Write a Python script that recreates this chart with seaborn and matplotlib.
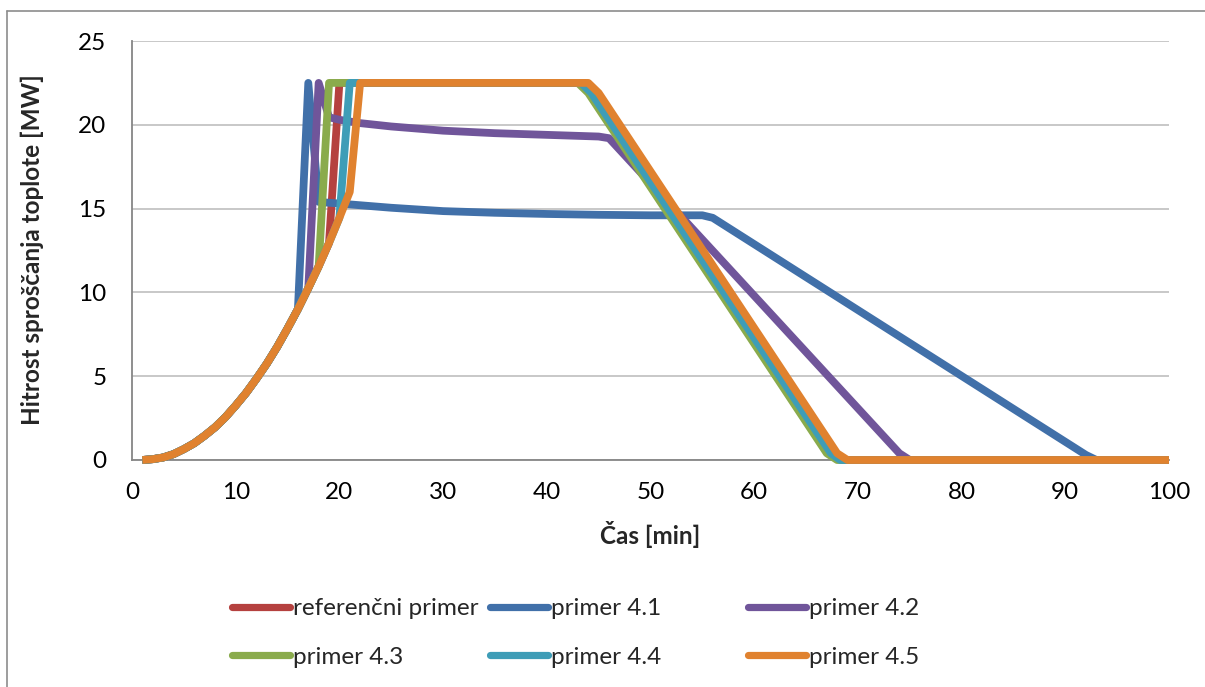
import matplotlib
matplotlib.use("Agg")
import matplotlib.pyplot as plt
from matplotlib.lines import Line2D
import pandas as pd
import seaborn as sns

# Growth phase shared by all cases (MW at whole minutes, t = 1 ... 21 min)
growth_t = list(range(1, 22))
growth_q = [0.0, 0.05, 0.15, 0.35, 0.65, 1.0, 1.45, 1.95, 2.55, 3.25, 4.0,
            4.85, 5.75, 6.75, 7.85, 9.0, 10.25, 11.55, 12.95, 14.45, 16.0]

series_names = ["referenčni primer", "primer 4.1", "primer 4.2",
                "primer 4.3", "primer 4.4", "primer 4.5"]
series_colors = ["#B5413F", "#4170A9", "#70559A", "#8AAB4C", "#3E9DB7", "#E0822F"]

# referenčni primer
ref_t = growth_t[:19] + [20, 43.6, 44.6, 67.7, 68.6, 100]
ref_q = growth_q[:19] + [22.5, 22.5, 21.9, 0.4, 0.0, 0.0]

# primer 4.1
p41_t = growth_t[:16] + [17, 18, 20, 25, 30, 35, 40, 45, 50, 55, 56, 92, 93, 100]
p41_q = growth_q[:16] + [22.5, 15.4, 15.3, 15.05, 14.85, 14.75, 14.68, 14.63,
                         14.6, 14.6, 14.45, 0.3, 0.0, 0.0]

# primer 4.2
p42_t = growth_t[:17] + [18, 19, 20, 22, 25, 30, 35, 40, 45, 46, 74, 75, 100]
p42_q = growth_q[:17] + [22.5, 20.45, 20.3, 20.1, 19.9, 19.65, 19.5, 19.4,
                         19.3, 19.2, 0.4, 0.0, 0.0]

# primer 4.3
p43_t = growth_t[:18] + [19, 43, 44, 67, 68, 100]
p43_q = growth_q[:18] + [22.5, 22.5, 21.9, 0.4, 0.0, 0.0]

# primer 4.4
p44_t = growth_t[:20] + [21, 43.3, 44.3, 67.4, 68.3, 100]
p44_q = growth_q[:20] + [22.5, 22.5, 21.9, 0.4, 0.0, 0.0]

# primer 4.5
p45_t = growth_t[:21] + [22, 44, 45, 68, 69, 100]
p45_q = growth_q[:21] + [22.5, 22.5, 21.9, 0.4, 0.0, 0.0]

x_ticks = [0, 10, 20, 30, 40, 50, 60, 70, 80, 90, 100]
y_ticks = [0, 5, 10, 15, 20, 25]

all_t = [ref_t, p41_t, p42_t, p43_t, p44_t, p45_t]
all_q = [ref_q, p41_q, p42_q, p43_q, p44_q, p45_q]
frames = [pd.DataFrame({"t": t, "q": q, "serija": name})
          for name, t, q in zip(series_names, all_t, all_q)]
df = pd.concat(frames, ignore_index=True)

sns.set_theme(style="white")
plt.rcParams["font.family"] = ["Lato", "DejaVu Sans"]

W, H = 1205, 687
FS = 17.5
fig = plt.figure(figsize=(W / 100, H / 100), dpi=100)
ax = fig.add_axes([132 / W, 1 - 460 / H, (1169 - 132) / W, (460 - 41) / H])

grid_col = "#BFBFBF"
axis_col = "#868686"

sns.lineplot(data=df, x="t", y="q", hue="serija", hue_order=series_names,
             palette=dict(zip(series_names, series_colors)), estimator=None,
             sort=False, linewidth=5.6, legend=False, ax=ax)
for ln in ax.get_lines():
    ln.set_clip_on(False)
    ln.set_solid_joinstyle("round")
    ln.set_solid_capstyle("butt")
    ln.set_zorder(3)

ax.set_xlim(0, 100)
ax.set_ylim(0, 25)
ax.set_xticks(x_ticks)
ax.set_yticks(y_ticks)
ax.set_xlabel("")
ax.set_ylabel("")
ax.set_axisbelow(True)
ax.yaxis.grid(True, color=grid_col, linewidth=1.2)
ax.xaxis.grid(False)
for side in ["top", "right"]:
    ax.spines[side].set_visible(False)
for side in ["left", "bottom"]:
    ax.spines[side].set_color(axis_col)
    ax.spines[side].set_linewidth(1.3)
ax.tick_params(axis="both", which="major", direction="out", length=4.5,
               width=1.1, color=axis_col, labelsize=FS, labelcolor="black")
ax.tick_params(axis="x", pad=11)
ax.tick_params(axis="y", pad=14)

fig.text(650 / W, 1 - 534 / H, "Čas [min]", ha="center", va="center",
         fontsize=FS, fontweight="bold")
fig.text(32 / W, 1 - 250 / H, "Hitrost sproščanja toplote [MW]", ha="center",
         va="center", rotation=90, fontsize=FS, fontweight="bold")

# legend: three columns of two entries
col_x = [232, 490, 748]
col_members = [[0, 3], [1, 4], [2, 5]]
for cx, members in zip(col_x, col_members):
    handles = [Line2D([0], [0], color=series_colors[i], linewidth=5.2)
               for i in members]
    labels = [series_names[i] for i in members]
    fig.legend(handles, labels, loc="upper left",
               bbox_to_anchor=(cx / W, 1 - 598 / H), frameon=False,
               fontsize=FS, handlelength=2.4, handletextpad=0.12,
               borderpad=0, borderaxespad=0, labelspacing=1.15)

# chart-area frame
frame_col = "#8C8C8C"
fig.add_artist(Line2D([7 / W, 1.0], [1 - 11 / H, 1 - 11 / H],
                      transform=fig.transFigure, color=frame_col, linewidth=1.2))
fig.add_artist(Line2D([7 / W, 7 / W], [0.0, 1 - 11 / H],
                      transform=fig.transFigure, color=frame_col, linewidth=1.2))

fig.savefig("out.png", dpi=100)
